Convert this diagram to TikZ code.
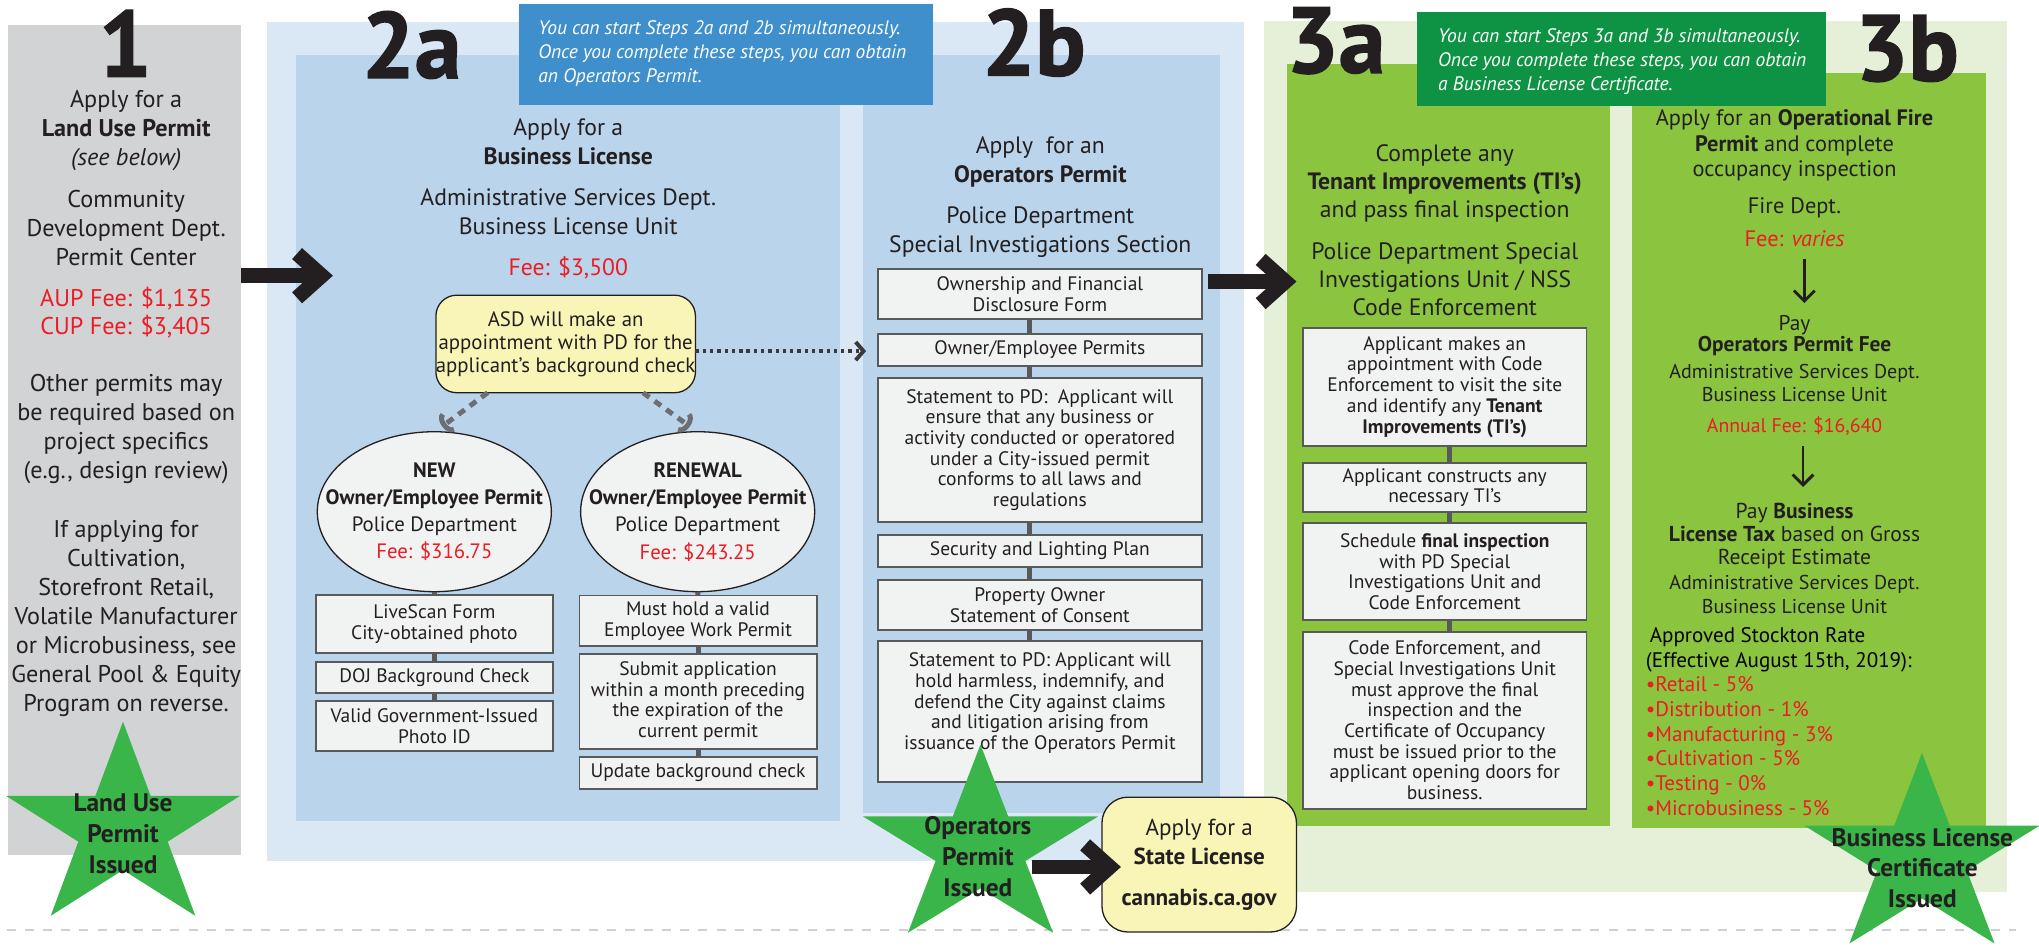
\documentclass[tikz,border=0pt]{standalone}
\usepackage{fontspec}
\setmainfont{PT Sans}
\newfontfamily\numfont{PT Sans}[BoldFeatures={FakeBold=1.5}]
\usetikzlibrary{arrows.meta,shapes.geometric}
\definecolor{txt}{HTML}{231F20}
\definecolor{feered}{HTML}{ED1C24}
\definecolor{colgray}{HTML}{D1D3D4}
\definecolor{bluelight}{HTML}{DAE7F4}
\definecolor{bluemid}{HTML}{BAD4EB}
\definecolor{noteblue}{HTML}{3F8FCD}
\definecolor{greenlight}{HTML}{E6F0D9}
\definecolor{greenmid}{HTML}{8BC43F}
\definecolor{notegreen}{HTML}{0E9344}
\definecolor{stargreen}{HTML}{3AB54A}
\definecolor{yellowbox}{HTML}{F9F5B6}
\definecolor{boxfill}{HTML}{F1F2F2}
\definecolor{boxline}{HTML}{58595B}
\definecolor{dashgray}{HTML}{6D6E71}
\definecolor{dotgray}{HTML}{3A3A3A}
\definecolor{sepgray}{HTML}{D0D0D0}
\newcommand{\mystar}[4]{%
  \fill[stargreen] ({#1},{#2-#4})
    \foreach \k in {1,...,9}{ -- ({#1+#3*ifthenelse(mod(\k,2)==0,1,0.382)*cos(-90+36*\k)},{#2+#4*ifthenelse(mod(\k,2)==0,1,0.382)*sin(-90+36*\k)}) } -- cycle;}
\tikzset{
  every node/.style={inner sep=0pt, outer sep=0pt, text=txt},
  hd/.style={align=center, font=\fontsize{9.1}{11.2}\selectfont},
  cone/.style={align=center, font=\fontsize{9.3}{11.15}\selectfont},
  bignum/.style={anchor=base, text depth=0pt, font=\numfont\bfseries\fontsize{36}{36}\selectfont},
  fee/.style={anchor=base, text=feered, font=\fontsize{9.1}{11.2}\selectfont},
  stepbox/.style={draw=boxline, line width=0.7pt, fill=boxfill, align=center,
    font=\fontsize{7.5}{7.95}\selectfont, minimum width=#1},
  ellbox/.style={ellipse, draw=txt, line width=0.5pt, fill=boxfill, minimum width=90pt, minimum height=61.5pt},
  elltext/.style={align=center, font=\fontsize{8}{10.5}\selectfont},
  startext/.style={align=center, font=\bfseries\fontsize{9.75}{11.85}\selectfont},
  notetext/.style={anchor=north west, align=left, text=white, font=\itshape\fontsize{7.5}{9.2}\selectfont},
  conn/.style={draw=boxline, line width=1.9pt},
  bigarr/.style={draw=txt, line width=5.7pt, -{Straight Barb[length=9.5pt,width=17pt]}},
  dotarr/.style={draw=dotgray, line width=1.5pt, dash pattern=on 1.3pt off 1.5pt, -{Straight Barb[length=3pt,width=7pt]}},
  dasharr/.style={draw=dashgray, line width=1.9pt, dash pattern=on 3pt off 2.5pt, -{Arc Barb[length=3pt,width=9pt]}},
  downarr/.style={draw=txt, line width=1.1pt, -{Straight Barb[length=4pt,width=8pt]}},
  sepline/.style={draw=sepgray, line width=0.8pt, dash pattern=on 3.5pt off 3.5pt}
}
\begin{document}
\begin{tikzpicture}[x=0.5pt,y=-0.5pt]
\useasboundingbox (0,0) rectangle (1568,729);
% separator
\draw[sepline] (5,715) -- (1550,715);
% backgrounds
\fill[colgray] (6.2,19) rectangle (185,657.5);
\fill[bluelight] (205,17) rectangle (957,662);
\fill[bluemid] (228,42) rectangle (646,631);
\fill[bluemid] (663.6,42) rectangle (938,625);
\fill[greenlight] (972,16) rectangle (1543,686);
\fill[greenmid] (990,49) rectangle (1238,635);
\fill[greenmid] (1255,56) rectangle (1527,637);
\fill[noteblue] (399,3) rectangle (717.5,80.5);
\fill[notegreen] (1090,9.5) rectangle (1404,81.5);
\node[notetext] (noteb) at (414,15.6) {You can start Steps 2a and 2b simultaneously.\\Once you complete these steps, you can obtain\\an Operators Permit.};
\node[notetext] (noteg) at (1106,22) {You can start Steps 3a and 3b simultaneously.\\Once you complete these steps, you can obtain\\a Business License Certificate.};

% ---------- column 1
\node[bignum] (n1) at (96.3,59) {1};
\node[cone] (c1a) at (97,100.5) {Apply for a\\\textbf{Land Use Permit}\\\textit{(see below)}};
\node[cone] (c1b) at (97,175) {Community\\Development Dept.\\Permit Center};
\node[cone, text=feered, font=\fontsize{9.3}{10.5}\selectfont] (c1c) at (97,240.5) {AUP Fee: \$1,135\\CUP Fee: \$3,405};
\node[cone] (c1d) at (97,330) {Other permits may\\be required based on\\project specifics\\(e.g., design review)};
\node[cone] (c1e) at (97,475.8) {If applying for\\Cultivation,\\Storefront Retail,\\Volatile Manufacturer\\or Microbusiness, see\\General Pool \& Equity\\Program on reverse.};

% ---------- 2a
\node[bignum] (n2a) at (316.5,60) {2a};
\node[hd] (h2a1) at (437,109.3) {Apply for a\\\textbf{Business License}};
\node[hd] (h2a2) at (437,163) {Administrative Services Dept.\\Business License Unit};
\node[fee] (f2a) at (437,212) {Fee: \$3,500};
\node[draw=txt, line width=0.5pt, fill=yellowbox, rounded corners=8pt, minimum width=95pt, minimum height=37.5pt,
  align=center, font=\fontsize{8}{8.9}\selectfont] (asd) at (435,264.5) {ASD will make an\\appointment with PD for the\\applicant’s background check};
\node[ellbox] (new) at (334,393.5) {};
\node[elltext] (newt) at (334,393.5) {\textbf{NEW}\\\textbf{Owner/Employee Permit}\\Police Department\\\textcolor{feered}{Fee: \$316.75}};
\node[ellbox] (ren) at (536.5,393.5) {};
\node[elltext] (rent) at (536.5,393.5) {\textbf{RENEWAL}\\\textbf{Owner/Employee Permit}\\Police Department\\\textcolor{feered}{Fee: \$243.25}};
\node[stepbox=91pt, minimum height=22.4pt] (l1) at (334,480) {LiveScan Form\\City-obtained photo};
\node[stepbox=91pt, minimum height=12pt] (l2) at (334,521) {DOJ Background Check};
\node[stepbox=91pt, minimum height=19.3pt] (l3) at (334,558.3) {Valid Government-Issued\\Photo ID};
\node[stepbox=91.2pt, minimum height=19.5pt] (r1) at (536.8,477.5) {Must hold a valid\\Employee Work Permit};
\node[stepbox=91.2pt, minimum height=36.5pt] (r2) at (536.8,539.5) {Submit application\\within a month preceding\\the expiration of the\\current permit};
\node[stepbox=91.2pt, minimum height=12.5pt] (r3) at (536.8,594.5) {Update background check};
\draw[conn] (new.south) -- (l1.north);
\draw[conn] (l1.south) -- (l2.north);
\draw[conn] (l2.south) -- (l3.north);
\draw[conn] (ren.south) -- (r1.north);
\draw[conn] (r1.south) -- (r2.north);
\draw[conn] (r2.south) -- (r3.north);
\draw[dasharr] ([xshift=-30pt]asd.south) -- ([xshift=3pt,yshift=2pt]new.north);
\draw[dasharr] ([xshift=29.75pt]asd.south) -- ([xshift=-3pt,yshift=2pt]ren.north);

% ---------- 2b
\node[bignum] (n2b) at (795,58) {2b};
\node[hd] (h2b1) at (800,124.7) {Apply~ for an\\\textbf{Operators Permit}};
\node[hd] (h2b2) at (800,178.3) {Police Department\\Special Investigations Section};
\node[stepbox=124.65pt, minimum height=19.2pt] (b1) at (799.65,226.1) {Ownership and Financial\\Disclosure Form};
\node[stepbox=124.65pt, minimum height=12.35pt] (b2) at (799.65,269.15) {Owner/Employee Permits};
\node[stepbox=124.65pt, minimum height=55.35pt] (b3) at (799.65,346.05) {Statement to PD:~ Applicant will\\ensure that any business or\\activity conducted or operatored\\under a City-issued permit\\conforms to all laws and\\regulations};
\node[stepbox=124.65pt, minimum height=12.3pt] (b4) at (799.65,423.7) {Security and Lighting Plan};
\node[stepbox=124.65pt, minimum height=19.25pt] (b5) at (799.65,465.25) {Property Owner\\Statement of Consent};
\node[stepbox=124.65pt, minimum height=54.2pt] (b6) at (799.65,547.2) {Statement to PD: Applicant will\\hold harmless, indemnify, and\\defend the City against claims\\and litigation arising from\\issuance of the Operators Permit\\\mbox{}};
\draw[conn] ([xshift=-4pt]b1.south) -- ([xshift=-4pt]b2.north);
\draw[conn] ([xshift=-4pt]b2.south) -- ([xshift=-4pt]b3.north);
\draw[conn] ([xshift=-4pt]b3.south) -- ([xshift=-4pt]b4.north);
\draw[conn] ([xshift=-4pt]b4.south) -- ([xshift=-4pt]b5.north);
\draw[conn] ([xshift=-4pt]b5.south) -- ([xshift=-4pt]b6.north);
\coordinate (dotend) at (666,270);
\draw[dotarr] ([yshift=-2.75pt]asd.east) -- (dotend);

% ---------- 3a
\node[bignum] (n3a) at (1027,56) {3a};
\node[hd, font=\fontsize{9.1}{10.75}\selectfont] (h3a1) at (1111,140.9) {Complete any\\\textbf{Tenant Improvements (TI’s)}\\and pass final inspection};
\node[hd, font=\fontsize{9.1}{10.6}\selectfont] (h3a2) at (1111,214.7) {Police Department Special\\Investigations Unit / NSS\\Code Enforcement};
\node[stepbox=109pt, minimum height=45.5pt] (k1) at (1111,297.5) {Applicant makes an\\appointment with Code\\Enforcement to visit the site\\and identify any \textbf{Tenant}\\\textbf{Improvements (TI’s)}};
\node[stepbox=109pt, minimum height=19pt] (k2) at (1111,375) {Applicant constructs any\\necessary TI’s};
\node[stepbox=109pt, minimum height=37.5pt] (k3) at (1111,439.5) {Schedule \textbf{final inspection}\\with PD Special\\Investigations Unit and\\Code Enforcement};
\node[stepbox=109pt, minimum height=68pt] (k4) at (1111,554) {Code Enforcement, and\\Special Investigations Unit\\must approve the final\\inspection and the\\Certificate of Occupancy\\must be issued prior to the\\applicant opening doors for\\business.};
\draw[conn] ([xshift=2pt]k1.south) -- ([xshift=2pt]k2.north);
\draw[conn] ([xshift=2pt]k2.south) -- ([xshift=2pt]k3.north);
\draw[conn] ([xshift=2pt]k3.south) -- ([xshift=2pt]k4.north);

% ---------- 3b
\node[bignum] (n3b) at (1466.5,62) {3b};
\node[align=center, font=\fontsize{8.6}{9.8}\selectfont] (h3b1) at (1380,112) {Apply for an \textbf{Operational Fire}\\\textbf{Permit} and complete\\occupancy inspection};
\node[anchor=base, font=\fontsize{8.6}{9.8}\selectfont] (h3b2) at (1380,164) {Fire Dept.};
\node[anchor=base, text=feered, font=\fontsize{8.6}{9.8}\selectfont] (f3b1) at (1380,189.2) {Fee: \textit{varies}};
\coordinate (d1s) at (1387.5,199);
\coordinate (d1e) at (1387.5,233);
\draw[downarr] (d1s) -- (d1e);
\node[align=center, font=\fontsize{8.2}{8.1}\selectfont] (p1) at (1380,257.8) {Pay\\\textbf{Operators Permit Fee}};
\node[align=center, font=\fontsize{7.7}{8.7}\selectfont] (p1b) at (1380,294.3) {Administrative Services Dept.\\Business License Unit};
\node[anchor=base, text=feered, font=\fontsize{7.6}{8.7}\selectfont] (f3b2) at (1380,332.5) {Annual Fee: \$16,640};
\coordinate (d2s) at (1386.5,343);
\coordinate (d2e) at (1386.5,374.5);
\draw[downarr] (d2s) -- (d2e);
\node[align=center, font=\fontsize{8.3}{8.7}\selectfont] (p2) at (1380,412.1) {Pay \textbf{Business}\\\textbf{License Tax} based on Gross\\Receipt Estimate};
\node[align=center, font=\fontsize{7.7}{9}\selectfont] (p2b) at (1380,457.2) {Administrative Services Dept.\\Business License Unit};
\node[anchor=north west, align=left, text=black, font=\fontsize{8.1}{9.5}\selectfont] (rates) at (1265.7,482.5)
  {\hspace{1.5pt}Approved Stockton Rate\\(Effective August 15th, 2019):\\
   \textcolor{feered}{•Retail - 5\%}\\\textcolor{feered}{•Distribution - 1\%}\\\textcolor{feered}{•Manufacturing - 3\%}\\
   \textcolor{feered}{•Cultivation - 5\%}\\\textcolor{feered}{•Testing - 0\%}\\\textcolor{feered}{•Microbusiness - 5\%}};

% ---------- state license box
\node[draw=txt, line width=0.5pt, fill=yellowbox, rounded corners=10pt, minimum width=74.8pt, minimum height=51.85pt,
  align=center, font=\fontsize{8.9}{11.25}\selectfont] (state) at (922.2,664.85) {Apply for a\\\textbf{State License}\\[4.5pt]\textbf{cannabis.ca.gov}};

% ---------- stars
\mystar{94.6}{637.5}{94.6}{82.5}
\node[startext] (s1) at (94.6,641.4) {Land Use\\Permit\\Issued};
\mystar{754}{652.6}{95}{80}
\node[startext] (s2) at (752,658.5) {Operators\\Permit\\Issued};
\mystar{1478}{660}{95}{81}
\node[startext] (s3) at (1478.3,667.5) {Business License\\Certificate\\Issued};

% ---------- big arrows
\coordinate (a1s) at (185,212);
\coordinate (a1e) at (256,212);
\draw[bigarr] (a1s) -- (a1e);
\coordinate (a2s) at (929,216.5);
\coordinate (a2e) at (997,216.5);
\draw[bigarr] (a2s) -- (a2e);
\coordinate (a3s) at (793.6,666.7);
\coordinate (a3e) at (862,666.7);
\draw[bigarr] (a3s) -- (a3e);
\end{tikzpicture}
\end{document}
